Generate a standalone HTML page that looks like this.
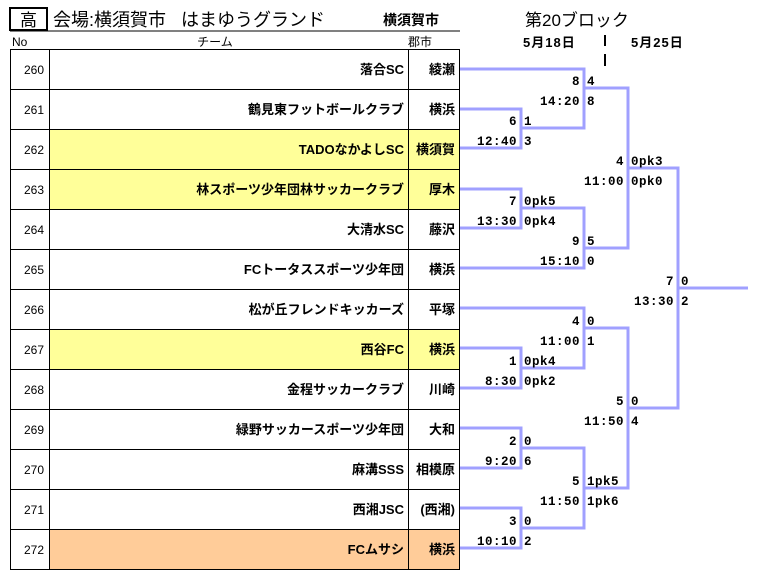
<!DOCTYPE html>
<html><head><meta charset="utf-8"><style>
html,body{margin:0;padding:0;background:#fff;}
svg{display:block;font-family:"Liberation Sans","Noto Sans CJK JP",sans-serif;}
.t{font-size:13px;font-weight:bold;text-anchor:end;}
.n{font-size:12px;text-anchor:end;}
.s{font-size:12.5px;font-weight:bold;font-family:"Liberation Mono","Noto Sans CJK JP",monospace;letter-spacing:0.5px;}
.r{text-anchor:end;}
</style></head><body>
<svg width="758" height="573" viewBox="0 0 758 573">
<rect x="10" y="8" width="37" height="22" fill="none" stroke="#000" stroke-width="2"/>
<text x="28.5" y="26" font-size="17" text-anchor="middle">高</text>
<text x="53" y="26" font-size="18">会場:横須賀市&#160;&#160;&#160;はまゆうグランド</text>
<text x="383" y="25" font-size="14" font-weight="bold">横須賀市</text>
<line x1="10" y1="31" x2="460" y2="31" stroke="#000" stroke-width="1"/>
<text x="12" y="46" font-size="12">No</text>
<text x="215" y="46" font-size="12" text-anchor="middle">チーム</text>
<text x="420" y="46" font-size="12" text-anchor="middle">郡市</text>
<text x="525" y="26" font-size="17">第20ブロック</text>
<text x="523" y="47" font-size="13" font-weight="bold" letter-spacing="1">5月18日</text>
<text x="631" y="47" font-size="13" font-weight="bold" letter-spacing="1">5月25日</text>
<line x1="605" y1="35" x2="605" y2="46" stroke="#000" stroke-width="2"/>
<line x1="605" y1="54" x2="605" y2="66" stroke="#000" stroke-width="2"/>
<rect x="49" y="129" width="411" height="40" fill="#ffff99"/>
<rect x="49" y="169" width="411" height="40" fill="#ffff99"/>
<rect x="49" y="329" width="411" height="40" fill="#ffff99"/>
<rect x="49" y="529" width="411" height="40" fill="#ffcc99"/>
<g stroke="#000" stroke-width="1" fill="none">
<rect x="10.5" y="49.5" width="449" height="520"/>
<line x1="49.5" y1="49" x2="49.5" y2="570"/>
<line x1="408.5" y1="49" x2="408.5" y2="570"/>
<line x1="10" y1="89.5" x2="460" y2="89.5"/><line x1="10" y1="129.5" x2="460" y2="129.5"/>
<line x1="10" y1="169.5" x2="460" y2="169.5"/><line x1="10" y1="209.5" x2="460" y2="209.5"/>
<line x1="10" y1="249.5" x2="460" y2="249.5"/><line x1="10" y1="289.5" x2="460" y2="289.5"/>
<line x1="10" y1="329.5" x2="460" y2="329.5"/><line x1="10" y1="369.5" x2="460" y2="369.5"/>
<line x1="10" y1="409.5" x2="460" y2="409.5"/><line x1="10" y1="449.5" x2="460" y2="449.5"/>
<line x1="10" y1="489.5" x2="460" y2="489.5"/><line x1="10" y1="529.5" x2="460" y2="529.5"/>
</g>
<g class="n">
<text x="44" y="74">260</text><text x="44" y="114">261</text><text x="44" y="154">262</text>
<text x="44" y="194">263</text><text x="44" y="234">264</text><text x="44" y="274">265</text>
<text x="44" y="314">266</text><text x="44" y="354">267</text><text x="44" y="394">268</text>
<text x="44" y="434">269</text><text x="44" y="474">270</text><text x="44" y="514">271</text>
<text x="44" y="554">272</text>
</g>
<g class="t">
<text x="404" y="74">落合SC</text><text x="404" y="114">鶴見東フットボールクラブ</text>
<text x="404" y="154">TADOなかよしSC</text><text x="404" y="194">林スポーツ少年団林サッカークラブ</text>
<text x="404" y="234">大清水SC</text><text x="404" y="274">FCトータススポーツ少年団</text>
<text x="404" y="314">松が丘フレンドキッカーズ</text><text x="404" y="354">西谷FC</text>
<text x="404" y="394">金程サッカークラブ</text><text x="404" y="434">緑野サッカースポーツ少年団</text>
<text x="404" y="474">麻溝SSS</text><text x="404" y="514">西湘JSC</text>
<text x="404" y="554">FCムサシ</text>
<text x="455" y="74">綾瀬</text><text x="455" y="114">横浜</text><text x="455" y="154">横須賀</text>
<text x="455" y="194">厚木</text><text x="455" y="234">藤沢</text><text x="455" y="274">横浜</text>
<text x="455" y="314">平塚</text><text x="455" y="354">横浜</text><text x="455" y="394">川崎</text>
<text x="455" y="434">大和</text><text x="455" y="474">相模原</text><text x="455" y="514">(西湘)</text>
<text x="455" y="554">横浜</text>
</g>
<g stroke="#a0a0ff" stroke-width="3" fill="none">
<polyline points="460,69 584,69 584,128 521,128"/>
<polyline points="460,109 521,109 521,148 460,148"/>
<polyline points="584,88 628,88 628,248 584,248"/>
<polyline points="460,189 521,189 521,228 460,228"/>
<polyline points="521,208 584,208 584,268 460,268"/>
<polyline points="628,168 678,168 678,408 628,408"/>
<line x1="678" y1="288" x2="748" y2="288"/>
<polyline points="460,308 584,308 584,368 521,368"/>
<polyline points="460,348 521,348 521,388 460,388"/>
<polyline points="584,328 628,328 628,488 584,488"/>
<polyline points="460,428 521,428 521,468 460,468"/>
<polyline points="521,448 584,448 584,528 521,528"/>
<polyline points="460,508 521,508 521,548 460,548"/>
</g>
<g class="s">
<text class="r" x="580" y="85">8</text><text class="r" x="580" y="105">14:20</text>
<text x="587" y="85">4</text><text x="587" y="105">8</text>
<text class="r" x="517" y="125">6</text><text class="r" x="517" y="145">12:40</text>
<text x="524" y="125">1</text><text x="524" y="145">3</text>
<text class="r" x="624" y="165">4</text><text class="r" x="624" y="185">11:00</text>
<text x="631" y="165">0pk3</text><text x="631" y="185">0pk0</text>
<text class="r" x="517" y="205">7</text><text class="r" x="517" y="225">13:30</text>
<text x="524" y="205">0pk5</text><text x="524" y="225">0pk4</text>
<text class="r" x="580" y="245">9</text><text class="r" x="580" y="265">15:10</text>
<text x="587" y="245">5</text><text x="587" y="265">0</text>
<text class="r" x="674" y="285">7</text><text class="r" x="674" y="305">13:30</text>
<text x="681" y="285">0</text><text x="681" y="305">2</text>
<text class="r" x="580" y="325">4</text><text class="r" x="580" y="345">11:00</text>
<text x="587" y="325">0</text><text x="587" y="345">1</text>
<text class="r" x="517" y="365">1</text><text class="r" x="517" y="385">8:30</text>
<text x="524" y="365">0pk4</text><text x="524" y="385">0pk2</text>
<text class="r" x="624" y="405">5</text><text class="r" x="624" y="425">11:50</text>
<text x="631" y="405">0</text><text x="631" y="425">4</text>
<text class="r" x="517" y="445">2</text><text class="r" x="517" y="465">9:20</text>
<text x="524" y="445">0</text><text x="524" y="465">6</text>
<text class="r" x="580" y="485">5</text><text class="r" x="580" y="505">11:50</text>
<text x="587" y="485">1pk5</text><text x="587" y="505">1pk6</text>
<text class="r" x="517" y="525">3</text><text class="r" x="517" y="545">10:10</text>
<text x="524" y="525">0</text><text x="524" y="545">2</text>
</g>
</svg>
</body></html>
